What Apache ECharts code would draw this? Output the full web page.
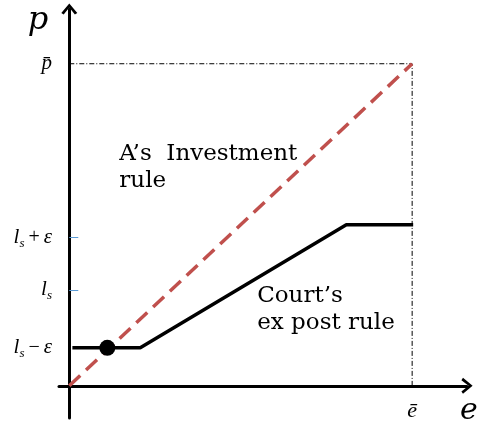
<!DOCTYPE html>
<html>
<head>
<meta charset="utf-8">
<script src="https://cdn.jsdelivr.net/npm/echarts@6/dist/echarts.min.js"></script>
<style>
  html, body { margin: 0; padding: 0; background: #fff; }
  #chart { width: 478px; height: 427px; }
</style>
</head>
<body>
<div id="chart"></div>
<script>
// tick values / labels on p axis
const yTickValues = [0.118, 0.298, 0.46, 1];
const yTickNames = ['ls-e', 'ls', 'ls+e', 'pbar'];
const yBlueTicks = [0.298, 0.46];
// e-bar position on e axis
const eBar = 1;

// 45-degree investment rule
const investmentRule = [[0, 0], [1, 1]];
// court's ex post rule (flat, rising, flat)
const courtRule = [[0.009, 0.118], [0.207, 0.118], [0.808, 0.5], [1.003, 0.5]];
// guide lines at p-bar / e-bar
const guide = [[0, 1], [1, 1], [1, 0]];
// intersection dot
const dot = [[0.111, 0.118]];

const serif = 'DejaVu Serif';
const lserif = 'Liberation Serif';
const labelRich = {
  i: { fontFamily: lserif, fontStyle: 'italic', fontSize: 21, color: '#000' },
  s: { fontFamily: lserif, fontStyle: 'italic', fontSize: 13, color: '#000', padding: [11, 0, 0, 0] },
  o: { fontFamily: lserif, fontSize: 20, color: '#000' }
};
const yLabelText = {
  'ls-e': '{i|l}{s|s}{o|\u2009−\u2009}{i|ε}',
  'ls': '{i|l}{s|s}',
  'ls+e': '{i|l}{s|s}{o|\u2009+\u2009}{i|ε}',
  'pbar': '{i|p̄}'
};

const arrow = 'path://M0,12 L10,0 L20,12 L17,14 L10,5 L3,14 Z';

let chart = echarts.init(document.getElementById('chart'));
const option = {
  animation: false,
  grid: { left: 59, right: 11, top: 9, bottom: 9, containLabel: false, outerBoundsMode: 'none' },
  xAxis: {
    type: 'value', min: -0.03, max: 1.16,
    splitLine: { show: false },
    axisTick: { show: false },
    axisLabel: { show: false },
    axisLine: { onZero: true, lineStyle: { color: '#000', width: 3 }, symbol: ['none', arrow], symbolSize: [16, 12] },
    name: 'e', nameLocation: 'end', nameGap: 2,
    nameTextStyle: { fontFamily: serif, fontStyle: 'italic', fontSize: 30, color: '#000', verticalAlign: 'top', align: 'center', padding: [10, 0, 0, 0] }
  },
  yAxis: {
    type: 'value', min: -0.1, max: 1.17,
    splitLine: { show: false },
    axisTick: { show: true, inside: true, customValues: yBlueTicks, length: 9, lineStyle: { color: '#5B9BD5', width: 1 } },
    axisLine: { onZero: true, lineStyle: { color: '#000', width: 3 }, symbol: ['none', arrow], symbolSize: [16, 12] },
    axisLabel: {
      customValues: yTickValues, margin: 7,
      formatter: v => yLabelText[yTickNames[yTickValues.indexOf(v)]] || '',
      rich: labelRich
    },
    name: 'p', nameLocation: 'end', nameGap: 0,
    nameTextStyle: { fontFamily: serif, fontStyle: 'italic', fontSize: 32, color: '#000', align: 'right', verticalAlign: 'top', padding: [-4, 21, 0, 0] }
  },
  series: [
    {
      type: 'line', data: guide, symbol: 'none', silent: true,
      lineStyle: { color: '#000', width: 1, type: [5, 2, 1, 2] }
    },
    {
      type: 'line', data: investmentRule, symbol: 'none',
      lineStyle: { color: '#C0504D', width: 3.5, type: [15, 8] }
    },
    {
      type: 'line', data: courtRule, symbol: 'none',
      lineStyle: { color: '#000', width: 3.5 }
    },
    {
      type: 'scatter', data: dot, symbolSize: 16, itemStyle: { color: '#000', opacity: 1 }, z: 5
    },
    {
      type: 'scatter', symbolSize: 0, silent: true,
      itemStyle: { opacity: 1 },
      data: [
        { value: [0.146, 0.677], label: { formatter: 'A’s  Investment\nrule' } },
        { value: [0.548, 0.236], label: { formatter: 'Court’s\nex post rule' } },
        {
          value: [eBar, 0],
          label: { formatter: 'ē', position: 'bottom', distance: 14, align: 'center', verticalAlign: 'top', fontStyle: 'italic', fontSize: 22, fontFamily: lserif, lineHeight: 22 }
        }
      ],
      label: {
        show: true, position: 'right', distance: 0, align: 'left', verticalAlign: 'middle',
        fontFamily: serif, fontSize: 23, lineHeight: 27, color: '#000'
      }
    }
  ]
};
chart.setOption(option);
</script>
</body>
</html>
